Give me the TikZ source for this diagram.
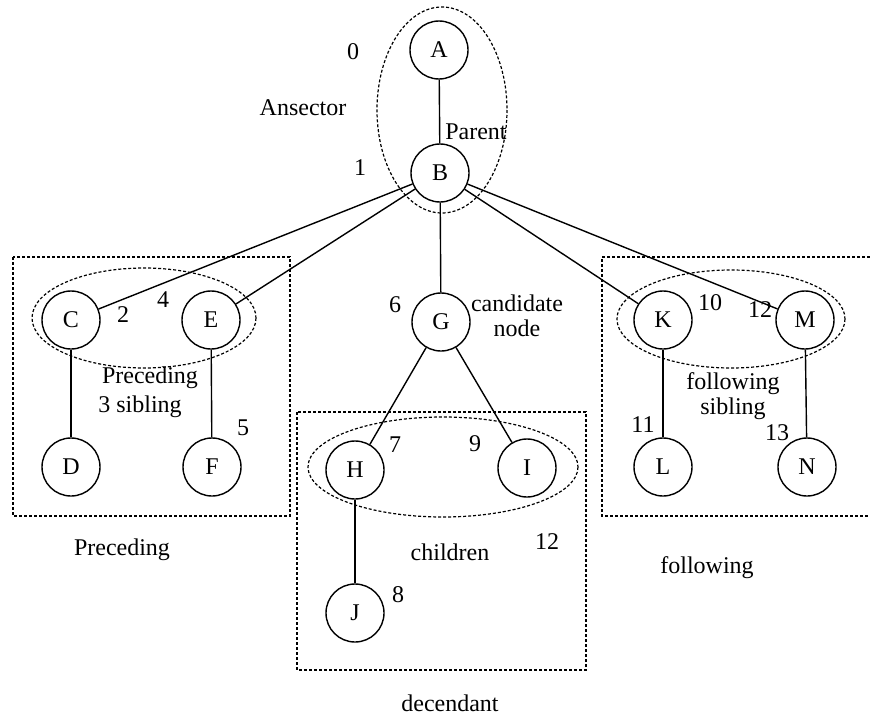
\documentclass[tikz,border=0pt]{standalone}
\usepackage{fontspec}
\setmainfont{Liberation Serif}
\begin{document}
\begin{tikzpicture}[x=1pt,y=-1pt,font=\fontsize{24}{28}\selectfont,
  vertex/.style={draw,circle,line width=1.4pt,minimum size=58pt,inner sep=0pt},
  link/.style={line width=1.4pt},
  group/.style={line width=1.2pt,dash pattern=on 3pt off 2pt},
  lbl/.style={inner sep=0pt,align=center}]
\useasboundingbox (0,0) rectangle (870,717);

\node[vertex] (A) at (439,50) {A};
\node[vertex] (B) at (440,173) {B};
\node[vertex] (C) at (71,320) {C};
\node[vertex] (E) at (211,320) {E};
\node[vertex] (D) at (71,467) {D};
\node[vertex] (F) at (212,467) {F};
\node[vertex] (G) at (441,322) {G};
\node[vertex] (H) at (355,470) {H};
\node[vertex] (I) at (527,468) {I};
\node[vertex] (J) at (355,613) {J};
\node[vertex] (K) at (663,320) {K};
\node[vertex] (M) at (805,320) {M};
\node[vertex] (L) at (663,467) {L};
\node[vertex] (N) at (807,467) {N};

\draw[link] (A) -- (B);
\draw[link] (B) -- (C);
\draw[link] (B) -- (E);
\draw[link] (B) -- (G);
\draw[link] (B) -- (K);
\draw[link] (B) -- (M);
\draw[link] (C) -- (D);
\draw[link] (E) -- (F);
\draw[link] (G) -- (H);
\draw[link] (G) -- (I);
\draw[link] (H) -- (J);
\draw[link] (K) -- (L);
\draw[link] (M) -- (N);

\draw[group] (442,110) ellipse (65 and 103);
\draw[group] (144,318) ellipse (112 and 50);
\draw[group] (731,319) ellipse (114 and 49);
\draw[group] (443,467) ellipse (135 and 50);

\draw[group] (13,257) rectangle (290,516);
\draw[group] (297,412) rectangle (586,670);
\draw[group] (870,257) -- (602,257) -- (602,516) -- (870,516);

\node[lbl] (n0) at (353,52) {0};
\node[lbl] (n1) at (360,168) {1};
\node[lbl] (ansector) at (303,108) {Ansector};
\node[lbl] (parent) at (476,132) {Parent};
\node[lbl] (n2) at (123,315) {2};
\node[lbl] (n4) at (163,300) {4};
\node[lbl] (precsib) at (150,378) {Preceding};
\node[lbl] (sib3) at (140,407) {3 sibling};
\node[lbl] (n5) at (243,428) {5};
\node[lbl] (n6) at (395,305) {6};
\node[lbl] (cand) at (517,316) {candidate\\[-3pt]node};
\node[lbl] (n10) at (710,303) {10};
\node[lbl] (n12a) at (760,310) {12};
\node[lbl] (follsib) at (733,396) {following\\[-3pt]sibling};
\node[lbl] (n11) at (643,425) {11};
\node[lbl] (n13) at (777,433) {13};
\node[lbl] (n7) at (395,445) {7};
\node[lbl] (n9) at (475,444) {9};
\node[lbl] (children) at (450,552) {children};
\node[lbl] (n12b) at (547,542) {12};
\node[lbl] (n8) at (398,595) {8};
\node[lbl] (preceding) at (122,550) {Preceding};
\node[lbl] (following) at (707,568) {following};
\node[lbl] (decendant) at (450,703) {decendant};
\end{tikzpicture}
\end{document}
